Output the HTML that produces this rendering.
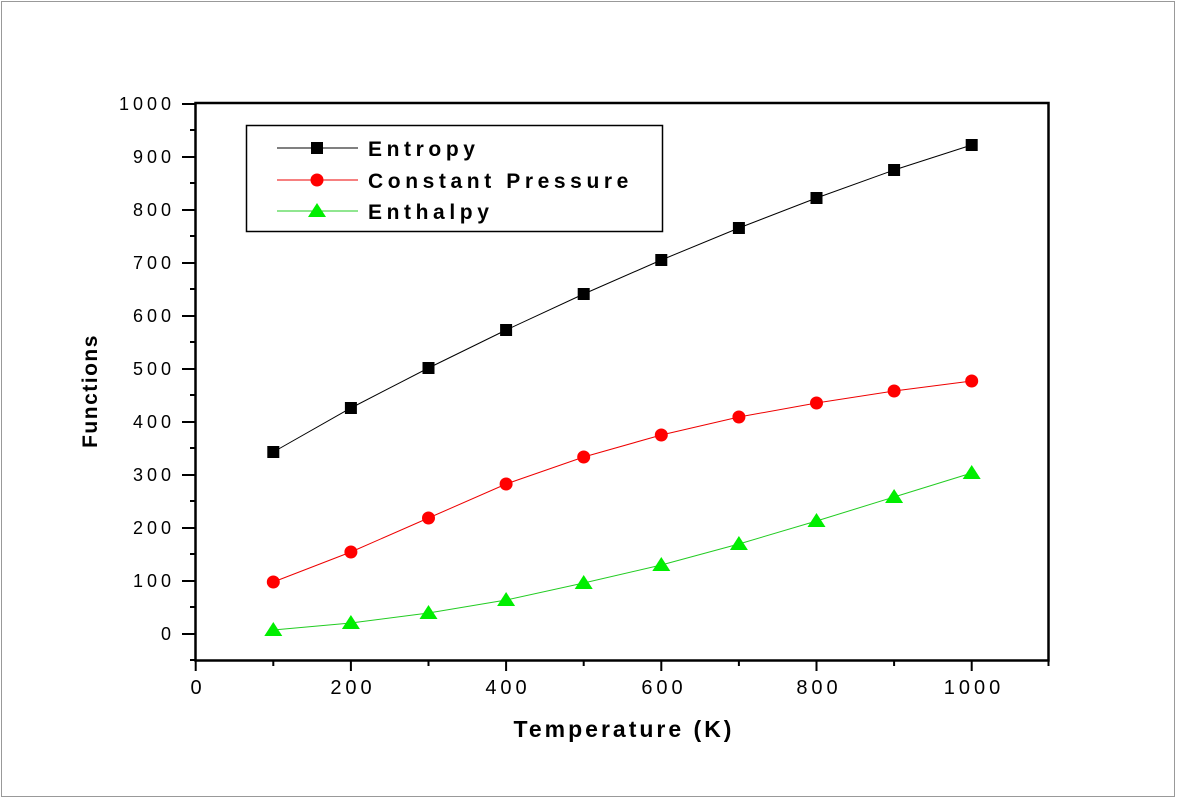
<!DOCTYPE html><html><head><style>body{margin:0;background:#fff}svg{display:block}text{font-family:"Liberation Sans",sans-serif}</style></head><body>
<svg width="1177" height="799" xmlns="http://www.w3.org/2000/svg">
<rect x="1.5" y="1.5" width="1173" height="795" fill="#fff" stroke="#999" stroke-width="1"/>
<rect x="195.5" y="103" width="853" height="557.5" fill="none" stroke="#000" stroke-width="2.5"/>
<g stroke="#000" stroke-width="2">
<path d="M182 634H195M182 581H195M182 528H195M182 475H195M182 422H195M182 369H195M182 316H195M182 263H195M182 210H195M182 157H195M182 104H195"/>
<path d="M190 660H195M190 607H195M190 554H195M190 501H195M190 448H195M190 395H195M190 342H195M190 289H195M190 236H195M190 183H195M190 130H195"/>
<path d="M195.7 661V671M350.9 661V671M506.1 661V671M661.3 661V671M816.5 661V671M971.7 661V671"/>
<path d="M273.3 661V666M428.5 661V666M583.7 661V666M738.9 661V666M894.1 661V666M1048.5 661V666"/>
</g>
<g font-size="18" text-anchor="end" fill="#000" letter-spacing="4">
<text x="175" y="640">0</text><text x="175" y="587">100</text><text x="175" y="534">200</text><text x="175" y="481">300</text><text x="175" y="428">400</text><text x="175" y="375">500</text><text x="175" y="322">600</text><text x="175" y="269">700</text><text x="175" y="216">800</text><text x="175" y="163">900</text><text x="175" y="110">1000</text>
</g>
<g font-size="20" text-anchor="middle" fill="#000" letter-spacing="4">
<text x="198" y="694">0</text><text x="353" y="694">200</text><text x="508" y="694">400</text><text x="664" y="694">600</text><text x="819" y="694">800</text><text x="974" y="694">1000</text>
</g>
<text x="624" y="737" font-size="23" font-weight="bold" text-anchor="middle" letter-spacing="3">Temperature (K)</text>
<text transform="translate(97 391) rotate(-90)" font-size="21" font-weight="bold" text-anchor="middle" letter-spacing="1.5">Functions</text>
<polyline fill="none" stroke="#000" stroke-width="1" points="273.3,452 350.9,408 428.5,368 506.1,330 583.7,294 661.3,260 738.9,228 816.5,198 894.1,170 971.7,145"/>
<g fill="#000"><rect x="267.3" y="446" width="12" height="12"/><rect x="344.9" y="402" width="12" height="12"/><rect x="422.5" y="362" width="12" height="12"/><rect x="500.1" y="324" width="12" height="12"/><rect x="577.7" y="288" width="12" height="12"/><rect x="655.3" y="254" width="12" height="12"/><rect x="732.9" y="222" width="12" height="12"/><rect x="810.5" y="192" width="12" height="12"/><rect x="888.1" y="164" width="12" height="12"/><rect x="965.7" y="139" width="12" height="12"/></g>
<polyline fill="none" stroke="#e00" stroke-width="1" points="273.3,582 350.9,552 428.5,518 506.1,484 583.7,457 661.3,435 738.9,417 816.5,403 894.1,391 971.7,381"/>
<g fill="#f00"><circle cx="273.3" cy="582" r="6.5"/><circle cx="350.9" cy="552" r="6.5"/><circle cx="428.5" cy="518" r="6.5"/><circle cx="506.1" cy="484" r="6.5"/><circle cx="583.7" cy="457" r="6.5"/><circle cx="661.3" cy="435" r="6.5"/><circle cx="738.9" cy="417" r="6.5"/><circle cx="816.5" cy="403" r="6.5"/><circle cx="894.1" cy="391" r="6.5"/><circle cx="971.7" cy="381" r="6.5"/></g>
<polyline fill="none" stroke="#2c2" stroke-width="1" points="273.3,630 350.9,623 428.5,613 506.1,600 583.7,583 661.3,565 738.9,544 816.5,521 894.1,497 971.7,473"/>
<g fill="#0e0">
<path d="M273.3 622l9 14h-18z"/><path d="M350.9 615l9 14h-18z"/><path d="M428.5 605l9 14h-18z"/><path d="M506.1 592l9 14h-18z"/><path d="M583.7 575l9 14h-18z"/><path d="M661.3 557l9 14h-18z"/><path d="M738.9 536l9 14h-18z"/><path d="M816.5 513l9 14h-18z"/><path d="M894.1 489l9 14h-18z"/><path d="M971.7 465l9 14h-18z"/>
</g>
<rect x="246.5" y="125.5" width="416" height="106" fill="#fff" stroke="#000" stroke-width="1.5"/>
<line x1="277" y1="148" x2="358" y2="148" stroke="#000"/><rect x="311" y="142" width="12" height="12"/>
<line x1="277" y1="180" x2="358" y2="180" stroke="#e00"/><circle cx="317" cy="180" r="6.5" fill="#f00"/>
<line x1="277" y1="211" x2="358" y2="211" stroke="#2c2"/><path d="M317 203l9 14h-18z" fill="#0e0"/>
<g font-size="21" font-weight="bold" letter-spacing="4.6">
<text x="368" y="156">Entropy</text><text x="368" y="188">Constant Pressure</text><text x="368" y="219">Enthalpy</text>
</g>
</svg></body></html>
